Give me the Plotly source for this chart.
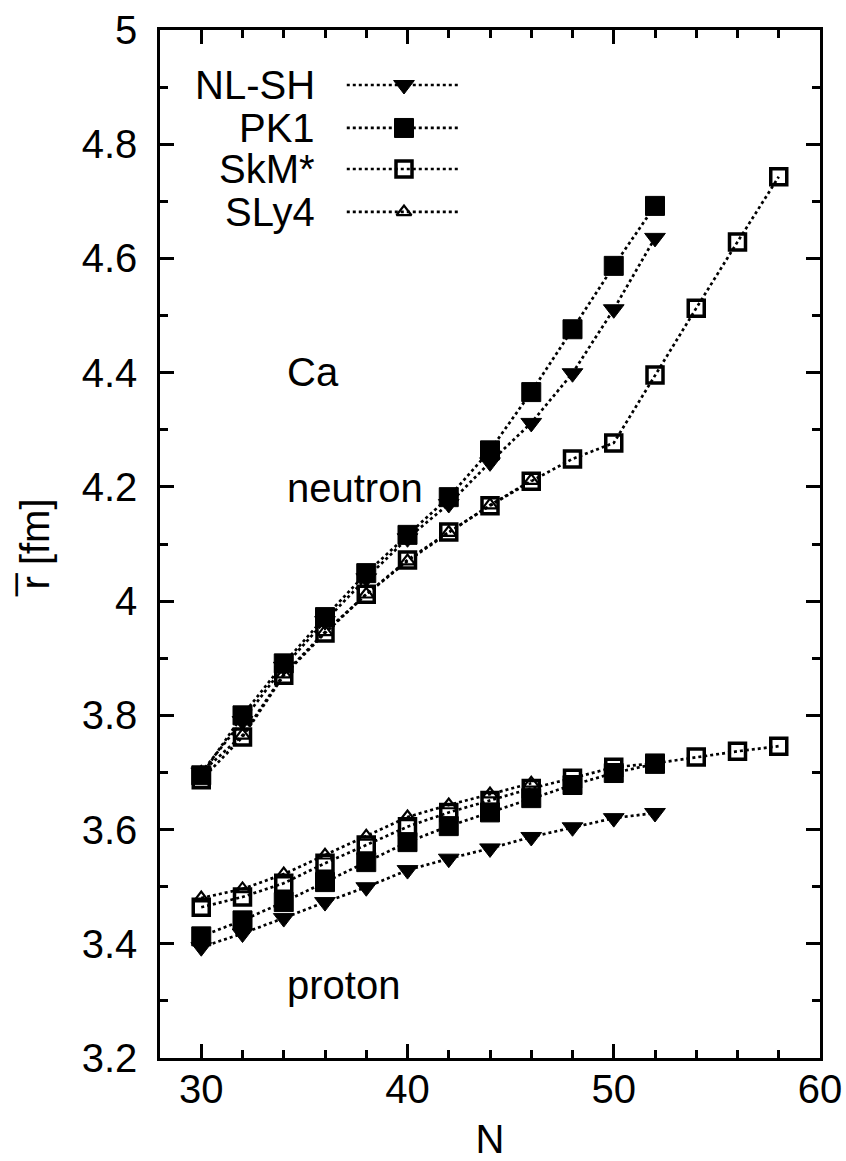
import plotly.graph_objects as go

# ---------------- data ----------------
N_rel = [30, 32, 34, 36, 38, 40, 42, 44, 46, 48, 50, 52]
N_skm = [30, 32, 34, 36, 38, 40, 42, 44, 46, 48, 50, 52, 54, 56, 58]
N_sly = [30, 32, 34, 36, 38, 40, 42, 44, 46]

nlsh_neutron = [3.700, 3.790, 3.885, 3.965, 4.040, 4.110, 4.170, 4.243, 4.312, 4.399, 4.511, 4.636]
pk1_neutron = [3.695, 3.800, 3.891, 3.972, 4.049, 4.116, 4.182, 4.264, 4.366, 4.476, 4.587, 4.692]
skm_neutron = [3.687, 3.762, 3.870, 3.944, 4.012, 4.072, 4.121, 4.167, 4.210, 4.249, 4.277,
               4.396, 4.513, 4.629, 4.743]
sly_neutron = [3.700, 3.765, 3.872, 3.946, 4.012, 4.070, 4.120, 4.168, 4.211]

nlsh_proton = [3.394, 3.418, 3.445, 3.473, 3.499, 3.529, 3.549, 3.567, 3.587, 3.604, 3.620, 3.629]
pk1_proton = [3.413, 3.441, 3.473, 3.508, 3.543, 3.578, 3.606, 3.630, 3.655, 3.678, 3.699, 3.715]
skm_proton = [3.464, 3.482, 3.506, 3.541, 3.573, 3.605, 3.630, 3.651, 3.672, 3.690, 3.709,
              3.716, 3.727, 3.737, 3.746]
sly_proton = [3.480, 3.496, 3.522, 3.555, 3.588, 3.622, 3.643, 3.662, 3.681]

series_names = ["NL-SH", "PK1", "SkM*", "SLy4"]

x_ticks = [30, 40, 50, 60]
y_ticks = [3.2, 3.4, 3.6, 3.8, 4.0, 4.2, 4.4, 4.6, 4.8, 5.0]
y_ticklabels = ["3.2", "3.4", "3.6", "3.8", "4", "4.2", "4.4", "4.6", "4.8", "5"]

# ---------------- styles ----------------
FONT = "Liberation Sans, Arial, Helvetica, sans-serif"
FS = 40
LINE = dict(color="black", width=2.7, dash="3px,3px")
markers = {
    "NL-SH": dict(symbol="triangle-down", size=18, color="black", line=dict(color="black", width=1)),
    "PK1": dict(symbol="square", size=19, color="black", line=dict(color="black", width=1)),
    "SkM*": dict(symbol="square-open", size=16, color="black", line=dict(color="black", width=3.5)),
    "SLy4": dict(symbol="triangle-up-open", size=13, color="black", line=dict(color="black", width=2.2)),
}

data_sets = {
    "NL-SH": (N_rel, nlsh_neutron, nlsh_proton),
    "PK1": (N_rel, pk1_neutron, pk1_proton),
    "SkM*": (N_skm, skm_neutron, skm_proton),
    "SLy4": (N_sly, sly_neutron, sly_proton),
}

fig = go.Figure()
for name in series_names:
    xs, yn, yp = data_sets[name]
    for ys in (yn, yp):
        fig.add_trace(go.Scatter(x=xs, y=ys, mode="lines+markers", name=name,
                                 line=LINE, marker=markers[name], showlegend=False))

# ---------------- custom legend (text left, sample right) ----------------
leg_rows = [0.9465, 0.9047, 0.8648, 0.823]
leg_text_x = 0.238
leg_line_x = [0.283, 0.4545]
leg_mark_x = 0.3697
for name, ry in zip(series_names, leg_rows):
    fig.add_trace(go.Scatter(x=leg_line_x, y=[ry, ry], mode="lines", line=LINE,
                             xaxis="x2", yaxis="y2", showlegend=False, hoverinfo="skip"))
    fig.add_trace(go.Scatter(x=[leg_mark_x], y=[ry], mode="markers", marker=markers[name],
                             xaxis="x2", yaxis="y2", showlegend=False, hoverinfo="skip"))
    fig.add_annotation(x=leg_text_x, y=ry, xref="paper", yref="paper", text=name,
                       showarrow=False, xanchor="right", yanchor="middle",
                       font=dict(family=FONT, size=FS, color="black"))

# ---------------- text labels ----------------
labels = [("Ca", 34.06, 4.401), ("neutron", 34.06, 4.198), ("proton", 34.06, 3.327)]
for t, lx, ly in labels:
    fig.add_annotation(x=lx, y=ly, text=t, showarrow=False, xanchor="left", yanchor="middle",
                       font=dict(family=FONT, size=FS, color="black"))

axis_common = dict(showline=True, linecolor="black", linewidth=2.5, mirror="allticks",
                   ticks="inside", ticklen=14, tickwidth=2.5, tickcolor="black",
                   showgrid=False, zeroline=False, automargin=False,
                   tickfont=dict(family=FONT, size=FS, color="black"))

fig.update_layout(
    width=846, height=1161,
    margin=dict(l=160, r=26, t=30, b=103),
    paper_bgcolor="white", plot_bgcolor="white",
    font=dict(family=FONT, size=FS, color="black"),
    xaxis=dict(range=[28, 60], tickvals=x_ticks,
               minor=dict(dtick=2, ticks="inside", ticklen=8, tickwidth=2.5, tickcolor="black"),
               title=dict(text="N", font=dict(family=FONT, size=FS), standoff=22),
               ticklabelstandoff=-6,
               **axis_common),
    yaxis=dict(range=[3.2, 5.0], tickvals=y_ticks, ticktext=y_ticklabels,
               minor=dict(dtick=0.1, ticks="inside", ticklen=8, tickwidth=2.5, tickcolor="black"),
               title=dict(text="r\u0305 [fm]", font=dict(family=FONT, size=FS), standoff=20),
               ticklabelstandoff=12,
               **axis_common),
    xaxis2=dict(overlaying="x", range=[0, 1], visible=False, fixedrange=True),
    yaxis2=dict(overlaying="y", range=[0, 1], visible=False, fixedrange=True),
)

fig.write_html("out.html")
